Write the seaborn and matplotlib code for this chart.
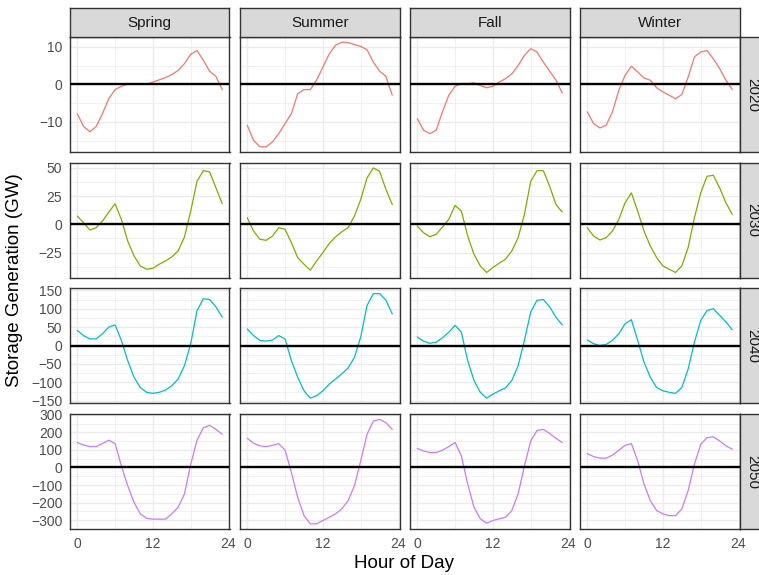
import numpy as np
import pandas as pd
import matplotlib
matplotlib.use("Agg")
import matplotlib.pyplot as plt
import seaborn as sns

# ---------------- data ----------------
hours = list(range(24))
seasons = ["Spring", "Summer", "Fall", "Winter"]
years = ["2020", "2030", "2040", "2050"]
year_colors = ["#F8766D", "#7CAE00", "#00BFC4", "#C77CFF"]
x_breaks = [0, 12, 24]
y_breaks = {
    "2020": [-10, 0, 10],
    "2030": [-25, 0, 25, 50],
    "2040": [-150, -100, -50, 0, 50, 100, 150],
    "2050": [-300, -200, -100, 0, 100, 200, 300],
}

spring_2020 = [-7.8, -11.2, -12.6, -11.2, -7.8, -3.8, -1.4, -0.5, 0, 0, 0, 0,
               0.6, 1.2, 1.8, 2.6, 3.7, 5.5, 8.0, 9.0, 6.4, 3.5, 2.1, -1.4]
summer_2020 = [-10.9, -14.9, -16.6, -16.6, -15.3, -13.1, -10.4, -7.8, -2.5, -1.4, -1.4, 1.1,
               4.6, 8.1, 10.4, 11.2, 11.1, 10.6, 10.1, 9.2, 5.9, 3.5, 2.1, -2.9]
fall_2020 = [-9.1, -12.2, -13.1, -12.2, -7.3, -2.9, -0.5, 0.2, 0.2, 0.4, -0.3, -0.9,
             -0.5, 0.6, 1.5, 2.8, 5.0, 7.7, 9.5, 8.6, 5.9, 3.5, 1.1, -2.3]
winter_2020 = [-7.3, -10.4, -11.6, -10.9, -7.3, -1.6, 2.4, 4.8, 3.3, 1.7, 1.1, -0.9,
               -2.0, -2.9, -3.8, -2.7, 1.9, 7.3, 8.6, 9.0, 6.8, 4.2, 1.1, -1.4]

spring_2030 = [7.4, 1.5, -5.0, -2.9, 2.9, 10.9, 18.2, 4.4, -14.7, -27.9, -36.8, -39.7,
               -38.8, -35.3, -32.4, -28.8, -23.5, -11.2, 11.8, 38.2, 47.6, 46.5, 32.4, 18.2]
summer_2030 = [5.9, -5.9, -13.2, -14.1, -10.3, -2.9, -4.4, -16.2, -29.4, -35.3, -40.6, -32.4,
               -25.0, -17.0, -11.2, -6.5, -2.9, 7.4, 22.0, 41.2, 50.0, 47.0, 30.9, 17.6]
fall_2030 = [-1.5, -7.4, -10.9, -8.8, -2.4, 4.4, 16.8, 11.8, -10.3, -26.5, -36.8, -42.6,
             -38.2, -34.4, -30.9, -23.5, -11.8, 8.8, 38.2, 47.6, 47.6, 33.8, 17.6, 10.9]
winter_2030 = [-2.9, -10.3, -13.8, -11.8, -5.9, 4.4, 19.1, 27.9, 11.8, -5.9, -19.1, -29.4,
               -36.8, -39.7, -42.6, -36.8, -20.6, 5.9, 27.9, 42.6, 43.5, 32.4, 19.1, 8.8]

spring_2040 = [41, 27, 18, 18, 32, 50, 56, 14, -41, -86, -114, -127,
               -130, -127, -121, -109, -91, -55, 5, 95, 127, 125, 105, 77]
summer_2040 = [45, 27, 14, 12, 15, 27, 18, -41, -86, -123, -143, -136,
               -123, -105, -91, -77, -61, -32, 23, 109, 141, 141, 123, 86]
fall_2040 = [23, 12, 6, 9, 21, 36, 55, 36, -41, -95, -127, -143,
             -132, -123, -115, -95, -55, 14, 91, 123, 125, 105, 77, 56]
winter_2040 = [15, 5, 0, 3, 14, 32, 59, 70, 14, -45, -86, -114,
               -123, -127, -130, -114, -64, 9, 68, 95, 100, 82, 64, 43]

spring_2050 = [142, 128, 119, 119, 136, 155, 136, 9, -104, -198, -264, -289,
               -294, -294, -294, -264, -226, -151, 19, 155, 226, 240, 217, 189]
summer_2050 = [166, 138, 123, 119, 126, 136, 98, -28, -170, -274, -321, -321,
               -302, -283, -264, -236, -189, -104, 38, 189, 264, 274, 255, 217]
fall_2050 = [108, 94, 85, 85, 98, 119, 142, 66, -94, -226, -292, -317,
             -302, -292, -283, -245, -151, 9, 151, 211, 217, 194, 166, 142]
winter_2050 = [79, 62, 53, 53, 70, 98, 126, 136, 38, -94, -189, -245,
               -264, -274, -274, -236, -132, 19, 132, 170, 174, 151, 123, 104]

series = {
    ("2020", "Spring"): spring_2020, ("2020", "Summer"): summer_2020,
    ("2020", "Fall"): fall_2020, ("2020", "Winter"): winter_2020,
    ("2030", "Spring"): spring_2030, ("2030", "Summer"): summer_2030,
    ("2030", "Fall"): fall_2030, ("2030", "Winter"): winter_2030,
    ("2040", "Spring"): spring_2040, ("2040", "Summer"): summer_2040,
    ("2040", "Fall"): fall_2040, ("2040", "Winter"): winter_2040,
    ("2050", "Spring"): spring_2050, ("2050", "Summer"): summer_2050,
    ("2050", "Fall"): fall_2050, ("2050", "Winter"): winter_2050,
}

rows = []
for (yr, se), vals in series.items():
    for h, v in zip(hours, vals):
        rows.append({"year": yr, "season": se, "hour": h, "value": v})
df = pd.DataFrame(rows)

# ---------------- style ----------------
sns.set_theme(style="white")
plt.rcParams["font.family"] = ["Liberation Sans", "DejaVu Sans"]

W, H = 759, 575
fig = plt.figure(figsize=(W / 100, H / 100), dpi=100)

pan_left0, pan_w, pan_dx = 70, 159.5, 170
pan_top0, pan_h, pan_dy = 37, 115, 125.7
strip_t = 29
border = "#333333"
grid_c = "#EBEBEB"
tick_c = "#4D4D4D"


def fig_rect(x, y, w, h):
    return [x / W, 1 - (y + h) / H, w / W, h / H]


def fmt(b):
    b = int(b)
    return ("\u2212" + str(-b)) if b < 0 else str(b)


for r, yr in enumerate(years):
    sub_row = df[df["year"] == yr]
    lo, hi = sub_row["value"].min(), sub_row["value"].max()
    pad = 0.05 * (hi - lo)
    ylim = (lo - pad, hi + pad)
    maj = [b for b in y_breaks[yr] if ylim[0] <= b <= ylim[1]]
    step = y_breaks[yr][1] - y_breaks[yr][0]
    minor_all = np.arange(y_breaks[yr][0] - step / 2, y_breaks[yr][-1] + step, step)
    minor = [m for m in minor_all if ylim[0] <= m <= ylim[1]]
    for c, se in enumerate(seasons):
        x0 = pan_left0 + c * pan_dx
        y0 = pan_top0 + r * pan_dy
        ax = fig.add_axes(fig_rect(x0, y0, pan_w, pan_h))
        sub = sub_row[sub_row["season"] == se]
        sns.lineplot(data=sub, x="hour", y="value", ax=ax, color=year_colors[r],
                     linewidth=0.9, legend=False, zorder=2)
        ax.axhline(0, color="black", linewidth=1.7, zorder=3)
        ax.set_xlim(-1.15, 24.15)
        ax.set_ylim(*ylim)
        ax.set_xticks(x_breaks)
        ax.set_xticks([6, 18], minor=True)
        ax.set_yticks(maj)
        ax.set_yticks(minor, minor=True)
        ax.grid(which="major", color=grid_c, linewidth=1.0)
        ax.grid(which="minor", color=grid_c, linewidth=0.5)
        ax.set_axisbelow(True)
        ax.set_facecolor("white")
        for sp in ax.spines.values():
            sp.set_color(border)
            sp.set_linewidth(1.0)
        ax.set_xlabel("")
        ax.set_ylabel("")
        ax.tick_params(which="minor", length=0)
        ax.tick_params(which="major", length=3.5, width=0.8, color=border,
                       labelsize=10, labelcolor=tick_c, pad=2)
        if c != 0:
            ax.tick_params(axis="y", which="major", length=0, labelleft=False)
        else:
            ax.set_yticklabels([fmt(b) for b in maj])
        if r != len(years) - 1:
            ax.tick_params(axis="x", which="major", length=0, labelbottom=False)
        else:
            ax.set_xticklabels([fmt(b) for b in x_breaks])

        # top strip
        if r == 0:
            sax = fig.add_axes(fig_rect(x0, y0 - strip_t, pan_w, strip_t))
            sax.set_facecolor("#D9D9D9")
            sax.set_xticks([]); sax.set_yticks([])
            for sp in sax.spines.values():
                sp.set_color(border); sp.set_linewidth(1.0)
            sax.text(0.5, 0.47, se, ha="center", va="center", fontsize=11,
                     color="#1A1A1A", transform=sax.transAxes)
        # right strip
        if c == len(seasons) - 1:
            rax = fig.add_axes(fig_rect(x0 + pan_w, y0, strip_t, pan_h))
            rax.set_facecolor("#D9D9D9")
            rax.set_xticks([]); rax.set_yticks([])
            for sp in rax.spines.values():
                sp.set_color(border); sp.set_linewidth(1.0)
            rax.text(0.45, 0.5, yr, ha="center", va="center", fontsize=11,
                     rotation=-90, color="#1A1A1A", transform=rax.transAxes)

fig.text(404.5 / W, 1 - 563 / H, "Hour of Day", ha="center", va="center",
         fontsize=13.5, color="black")
fig.text(15 / W, 1 - 280 / H, "Storage Generation (GW)", ha="center", va="center",
         rotation=90, fontsize=13.5, color="black")

fig.savefig("out.png", dpi=100)
